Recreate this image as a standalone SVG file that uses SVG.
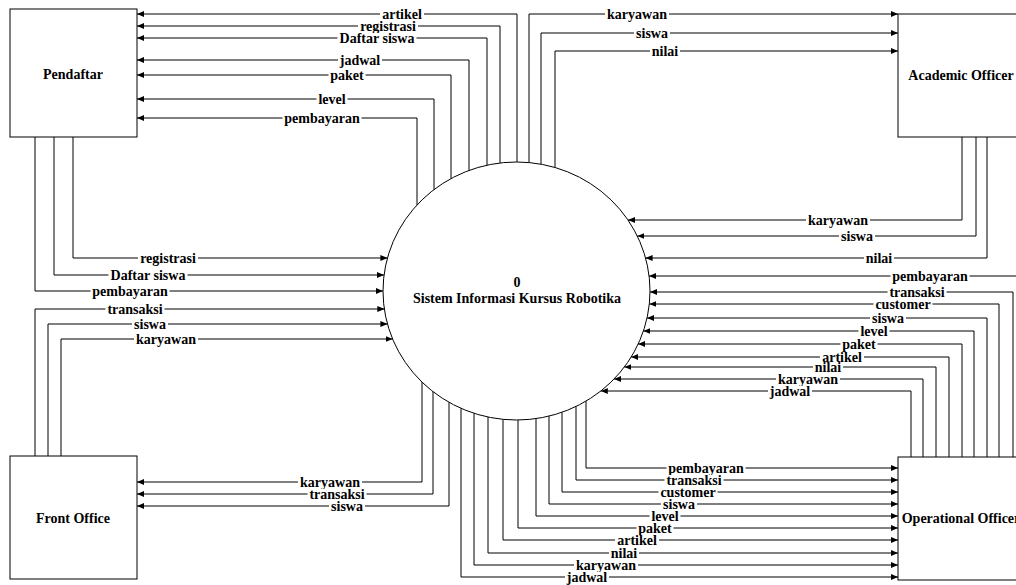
<svg xmlns="http://www.w3.org/2000/svg" width="1016" height="585" viewBox="0 0 1016 585">
<style>
.box{fill:#fff;stroke:#000;stroke-width:1}
.nt{font-family:"Liberation Serif","Times New Roman",serif;font-weight:bold;font-size:14px;text-anchor:middle;fill:#000}
.c{fill:none;stroke:#000;stroke-width:1;marker-end:url(#ah)}
.bg{fill:#fff}
.l{font-family:"Liberation Serif","Times New Roman",serif;font-weight:bold;font-size:14px;text-anchor:middle;fill:#000}
</style>
<defs>
<marker id="ah" markerUnits="userSpaceOnUse" markerWidth="7" markerHeight="6" refX="7" refY="3" orient="auto">
<path d="M0,0 L7,3 L0,6 z" fill="#000"/>
</marker>
</defs>
<rect width="1016" height="585" fill="#fff"/>
<g id="pendaftar"><rect class="box" x="10" y="9" width="127" height="128"/><text class="nt" x="73" y="79">Pendaftar</text></g>
<g id="academic-officer"><rect class="box" x="898" y="14" width="128" height="123"/><text class="nt" x="961" y="80">Academic Officer</text></g>
<g id="front-office"><rect class="box" x="10" y="456" width="127" height="123"/><text class="nt" x="73" y="523">Front Office</text></g>
<g id="operational-officer"><rect class="box" x="898" y="457" width="128" height="123"/><text class="nt" x="961" y="523">Operational Officer</text></g>
<g id="process-0"><ellipse class="box" cx="516.5" cy="291" rx="133.5" ry="129"/><text class="nt" x="517" y="287">0</text><text class="nt" x="517" y="303">Sistem Informasi Kursus Robotika</text></g>
<g id="connectors">
<path class="c" d="M517,162 V14 H137"/>
<path class="c" d="M500,163 V26 H137"/>
<path class="c" d="M487,165.2 V38 H137"/>
<path class="c" d="M469,170.4 V60 H137"/>
<path class="c" d="M451,178.6 V75 H137"/>
<path class="c" d="M434,189.6 V99 H137"/>
<path class="c" d="M417,205 V118 H137"/>
<path class="c" d="M529,162.6 V14 H898"/>
<path class="c" d="M541,164.2 V33 H898"/>
<path class="c" d="M555,167.5 V51 H898"/>
<path class="c" d="M962,137 V220 H628"/>
<path class="c" d="M976,137 V236 H637.3"/>
<path class="c" d="M987,137 V258 H645.6"/>
<path class="c" d="M73,137 V258 H387.4"/>
<path class="c" d="M54,137 V275 H384"/>
<path class="c" d="M35,137 V291 H383"/>
<path class="c" d="M35,456 V309 H384.3"/>
<path class="c" d="M48,456 V324 H387.4"/>
<path class="c" d="M61,456 V339 H392.6"/>
<path class="c" d="M422,382 V482 H137"/>
<path class="c" d="M433,391.6 V494 H137"/>
<path class="c" d="M449,402.3 V506 H137"/>
<path class="c" d="M1030,457 V276 H649.1"/>
<path class="c" d="M1013,457 V292 H650"/>
<path class="c" d="M999,457 V304 H649.3"/>
<path class="c" d="M987,457 V318 H647"/>
<path class="c" d="M974,457 V331 H643.4"/>
<path class="c" d="M962,457 V344 H638.2"/>
<path class="c" d="M949,457 V357 H631.2"/>
<path class="c" d="M936,457 V367 H624.4"/>
<path class="c" d="M923,457 V379 H614.1"/>
<path class="c" d="M911,457 V391 H600.8"/>
<path class="c" d="M586,401.1 V468 H898"/>
<path class="c" d="M576,406.5 V480 H898"/>
<path class="c" d="M562,412.3 V492 H898"/>
<path class="c" d="M549,416.1 V504 H898"/>
<path class="c" d="M536,418.6 V516 H898"/>
<path class="c" d="M518,420 V528 H898"/>
<path class="c" d="M503,419.3 V540 H898"/>
<path class="c" d="M488,417 V553 H898"/>
<path class="c" d="M474,413.3 V565 H898"/>
<path class="c" d="M461,408.3 V577 H898"/>
</g>
<g id="labels">
<rect class="bg" x="380" y="9" width="44" height="10"/><text class="l" x="402" y="18.5">artikel</text>
<rect class="bg" x="358" y="21" width="60" height="10"/><text class="l" x="388" y="30.5">registrasi</text>
<rect class="bg" x="337.5" y="33" width="79" height="10"/><text class="l" x="377" y="42.5">Daftar siswa</text>
<rect class="bg" x="338" y="55" width="44" height="10"/><text class="l" x="360" y="64.5">jadwal</text>
<rect class="bg" x="328.5" y="70" width="37" height="10"/><text class="l" x="347" y="79.5">paket</text>
<rect class="bg" x="316.5" y="94" width="31" height="10"/><text class="l" x="332" y="103.5">level</text>
<rect class="bg" x="282.5" y="113" width="79" height="10"/><text class="l" x="322" y="122.5">pembayaran</text>
<rect class="bg" x="605" y="9" width="64" height="10"/><text class="l" x="637" y="18.5">karyawan</text>
<rect class="bg" x="634" y="28" width="36" height="10"/><text class="l" x="652" y="37.5">siswa</text>
<rect class="bg" x="650" y="46" width="30" height="10"/><text class="l" x="665" y="55.5">nilai</text>
<rect class="bg" x="806" y="215" width="64" height="10"/><text class="l" x="838" y="224.5">karyawan</text>
<rect class="bg" x="839" y="231" width="36" height="10"/><text class="l" x="857" y="240.5">siswa</text>
<rect class="bg" x="864" y="253" width="30" height="10"/><text class="l" x="879" y="262.5">nilai</text>
<rect class="bg" x="138" y="253" width="60" height="10"/><text class="l" x="168" y="262.5">registrasi</text>
<rect class="bg" x="108.5" y="270" width="79" height="10"/><text class="l" x="148" y="279.5">Daftar siswa</text>
<rect class="bg" x="90.5" y="286" width="79" height="10"/><text class="l" x="130" y="295.5">pembayaran</text>
<rect class="bg" x="105.5" y="304" width="59" height="10"/><text class="l" x="135" y="313.5">transaksi</text>
<rect class="bg" x="132" y="319" width="36" height="10"/><text class="l" x="150" y="328.5">siswa</text>
<rect class="bg" x="134" y="334" width="64" height="10"/><text class="l" x="166" y="343.5">karyawan</text>
<rect class="bg" x="298" y="477" width="64" height="10"/><text class="l" x="330" y="486.5">karyawan</text>
<rect class="bg" x="307.5" y="489" width="59" height="10"/><text class="l" x="337" y="498.5">transaksi</text>
<rect class="bg" x="329" y="501" width="36" height="10"/><text class="l" x="347" y="510.5">siswa</text>
<rect class="bg" x="890.5" y="271" width="79" height="10"/><text class="l" x="930" y="280.5">pembayaran</text>
<rect class="bg" x="887.5" y="287" width="59" height="10"/><text class="l" x="917" y="296.5">transaksi</text>
<rect class="bg" x="873.5" y="299" width="59" height="10"/><text class="l" x="903" y="308.5">customer</text>
<rect class="bg" x="870" y="313" width="36" height="10"/><text class="l" x="888" y="322.5">siswa</text>
<rect class="bg" x="858.5" y="326" width="31" height="10"/><text class="l" x="874" y="335.5">level</text>
<rect class="bg" x="840.5" y="339" width="37" height="10"/><text class="l" x="859" y="348.5">paket</text>
<rect class="bg" x="820" y="352" width="44" height="10"/><text class="l" x="842" y="361.5">artikel</text>
<rect class="bg" x="813" y="362" width="30" height="10"/><text class="l" x="828" y="371.5">nilai</text>
<rect class="bg" x="776" y="374" width="64" height="10"/><text class="l" x="808" y="383.5">karyawan</text>
<rect class="bg" x="768" y="386" width="44" height="10"/><text class="l" x="790" y="395.5">jadwal</text>
<rect class="bg" x="666.5" y="463" width="79" height="10"/><text class="l" x="706" y="472.5">pembayaran</text>
<rect class="bg" x="664.5" y="475" width="59" height="10"/><text class="l" x="694" y="484.5">transaksi</text>
<rect class="bg" x="658.5" y="487" width="59" height="10"/><text class="l" x="688" y="496.5">customer</text>
<rect class="bg" x="661" y="499" width="36" height="10"/><text class="l" x="679" y="508.5">siswa</text>
<rect class="bg" x="649.5" y="511" width="31" height="10"/><text class="l" x="665" y="520.5">level</text>
<rect class="bg" x="636.5" y="523" width="37" height="10"/><text class="l" x="655" y="532.5">paket</text>
<rect class="bg" x="615" y="535" width="44" height="10"/><text class="l" x="637" y="544.5">artikel</text>
<rect class="bg" x="609" y="548" width="30" height="10"/><text class="l" x="624" y="557.5">nilai</text>
<rect class="bg" x="574" y="560" width="64" height="10"/><text class="l" x="606" y="569.5">karyawan</text>
<rect class="bg" x="565" y="572" width="44" height="10"/><text class="l" x="587" y="581.5">jadwal</text>
</g>
</svg>
